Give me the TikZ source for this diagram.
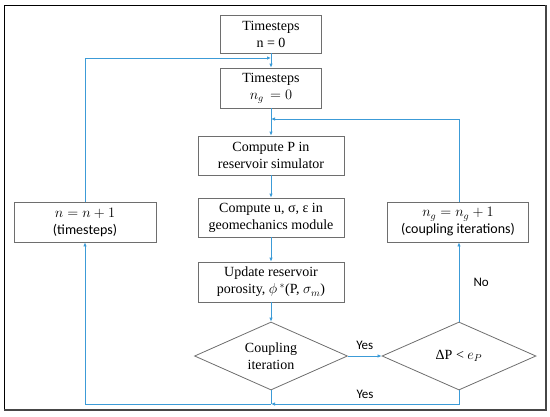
\documentclass[tikz,border=0pt]{standalone}
\usepackage{fontspec}
\setmainfont{Liberation Serif}
\newfontfamily\calibrifont{Carlito}
\usetikzlibrary{shapes.geometric,arrows.meta}
\definecolor{flow}{RGB}{60,155,215}
\definecolor{boxgray}{RGB}{110,110,110}
\definecolor{framegray}{RGB}{70,70,70}
\begin{document}
\begin{tikzpicture}[x=1pt,y=-1pt,
  box/.style={draw=boxgray, line width=0.8pt, align=center, inner sep=0pt,
    font=\fontsize{14}{17}\selectfont},
  dia/.style={draw=boxgray, line width=0.8pt, diamond, aspect=2.25, inner sep=0pt,
    align=center, font=\fontsize{14}{17}\selectfont},
  flowline/.style={draw=flow, line width=1pt},
  arr/.style={flowline, -{Latex[length=4pt,width=3.5pt]}},
  lab/.style={font=\calibrifont\fontsize{13}{15}\selectfont, inner sep=0pt}]
\useasboundingbox (0,0) rectangle (550,416);
% frame
\draw[black, line width=0.8pt] (4,410) -- (4,5) -- (546,5);
\draw[framegray, line width=2pt] (546,5) -- (546,410) -- (4,410);
% nodes
\node[box, minimum width=101pt, minimum height=38pt] (t0) at (271,34) {Timesteps\\n = 0};
\node[box, minimum width=101pt, minimum height=40pt] (tg) at (271,88) {Timesteps\\$n_g\,=0$};
\node[box, minimum width=146pt, minimum height=39pt] (cp) at (271,155.5) {Compute P in\\reservoir simulator};
\node[box, minimum width=146pt, minimum height=39pt] (cu) at (271,217.5) {Compute u, σ, ε in\\geomechanics module};
\node[box, minimum width=146pt, minimum height=40pt] (up) at (271,282) {Update reservoir\\porosity, $\phi$\,$^*$(P, $\sigma_m$)};
\node[dia, minimum width=153pt, minimum height=68pt] (cd) at (271,356) {Coupling\\iteration};
\node[dia, minimum width=154pt, minimum height=68pt] (dp) at (459,356) {ΔP < $e_P$};
\node[box, minimum width=142pt, minimum height=40pt] (nn) at (85,222) {$n = n + 1$\\{\calibrifont (timesteps)}};
\node[box, minimum width=141pt, minimum height=40pt] (ng) at (458,222) {$n_g = n_g + 1$\\{\calibrifont (coupling iterations)}};
% junction coordinates
\coordinate (j1) at (271,58);
\coordinate (j2) at (271,119);
\coordinate (b2) at (271,404);
% connectors
\draw[arr] (t0) -- (tg);
\draw[arr] (tg) -- (cp);
\draw[arr] (cp) -- (cu);
\draw[arr] (cu) -- (up);
\draw[arr] (up) -- (cd);
\draw[arr] (cd) -- node[lab, above=6pt] {Yes} (dp);
\draw[arr] (dp.north) -- node[lab, right=14pt, pos=0.5] {No} (ng.south -| dp.north);
\draw[arr] (ng.north -| dp.north) |- (j2);
\draw[arr] (dp.south) |- node[lab, pos=0.75, above=5pt] {Yes} (b2);
\draw[flowline] (cd.south) -- (b2);
\draw[arr] (b2) -| (nn.south);
\draw[arr] (nn.north) |- (j1);
\end{tikzpicture}
\end{document}
